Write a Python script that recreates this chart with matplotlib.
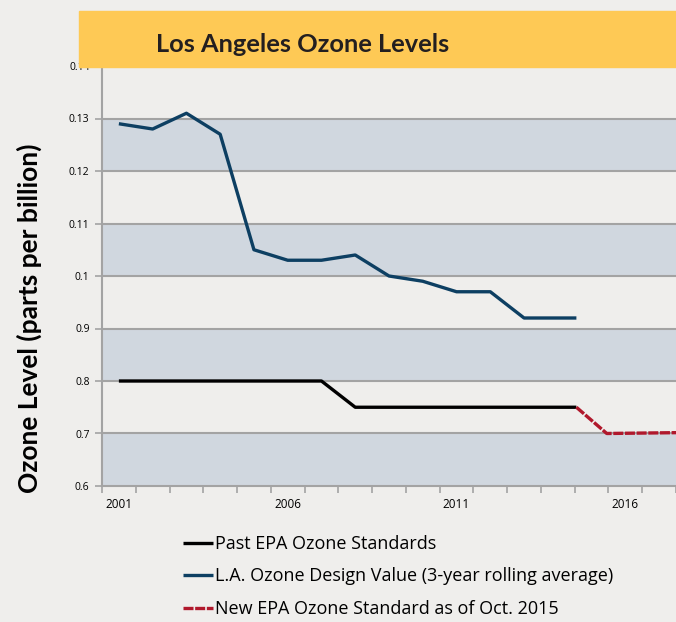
import numpy as np
import matplotlib.pyplot as plt
from matplotlib.patches import Rectangle

# data (ppm); y labels as printed on the original chart
la_years = [2001, 2002, 2003, 2004, 2005, 2006, 2007, 2008, 2009, 2010, 2011, 2012, 2013, 2014.55]
la_values = [0.129, 0.128, 0.131, 0.127, 0.105, 0.103, 0.103, 0.104, 0.100, 0.099, 0.097, 0.097, 0.092, 0.092]

past_years = [2001, 2002, 2003, 2004, 2005, 2006, 2007, 2008, 2009, 2010, 2011, 2012, 2013, 2014, 2014.55]
past_values = [0.08, 0.08, 0.08, 0.08, 0.08, 0.08, 0.08, 0.075, 0.075, 0.075, 0.075, 0.075, 0.075, 0.075, 0.075]

new_years = [2014.55, 2015.45, 2018]
new_values = [0.075, 0.070, 0.0702]

ytick_vals = [0.06, 0.07, 0.08, 0.09, 0.10, 0.11, 0.12, 0.13, 0.14]
ytick_labels = ['0.6', '0.7', '0.8', '0.9', '0.1', '0.11', '0.12', '0.13', '0.14']
xtick_years = [2001, 2006, 2011, 2016]

bg = '#efeeec'
band = '#d0d7df'
grid = '#a3a3a3'

fig = plt.figure(figsize=(6.76, 6.22), dpi=100, facecolor=bg)
ax = fig.add_axes([102 / 676, 1 - 486 / 622, 1 - 102 / 676, 420 / 622])
ax.set_facecolor('none')

for lo in [0.06, 0.08, 0.10, 0.12]:
    ax.axhspan(lo, lo + 0.01, color=band, zorder=0, lw=0)
for y in ytick_vals[1:]:
    ax.axhline(y, color=grid, lw=1.5, zorder=1)

ax.plot(past_years, past_values, color='black', lw=2.4, zorder=3, solid_capstyle='butt',
        label='Past EPA Ozone Standards')
ax.plot(la_years, la_values, color='#0d3f62', lw=2.4, zorder=3, solid_capstyle='butt',
        label='L.A. Ozone Design Value (3-year rolling average)')
ax.plot(new_years, new_values, color='#b0182c', lw=2.4, zorder=3, dashes=(3, 0.5),
        label='New EPA Ozone Standard as of Oct. 2015')

ax.set_xlim(2000.5, 2017.43)
ax.set_ylim(0.06, 0.14)
ax.set_yticks(ytick_vals)
ax.set_yticklabels(ytick_labels, fontsize=7.5, family='Open Sans')
ax.set_xticks(xtick_years)
ax.set_xticklabels([str(y) for y in xtick_years], fontsize=8.5, family='Open Sans')
ax.set_xticks(np.arange(2000.5, 2018, 1), minor=True)
ax.tick_params(axis='x', which='major', length=0, pad=9)
ax.tick_params(axis='x', which='minor', length=5, color=grid, width=1.2)
ax.tick_params(axis='y', length=5, color=grid, width=1.2, pad=4)

for s in ['top', 'right']:
    ax.spines[s].set_visible(False)
for s in ['left', 'bottom']:
    ax.spines[s].set_color(grid)
    ax.spines[s].set_linewidth(1.5)

# yellow title banner drawn over the top of the axes
fig.patches.append(Rectangle((79 / 676, 1 - 66.5 / 622), 1 - 79 / 676, 55.5 / 622,
                             transform=fig.transFigure, color='#fec955', zorder=5))
fig.text(0.4475, 1 - 52.5 / 622, 'Los Angeles Ozone Levels', ha='center', va='baseline',
         fontsize=18.3, fontweight='bold', family='Lato', color='#231f20', zorder=6)

fig.text(29 / 676, 1 - 318 / 622, 'Ozone Level (parts per billion)', rotation=90,
         ha='center', va='center', fontsize=19, fontweight='bold', family='Lato')

fig.legend(loc='upper left', bbox_to_anchor=(183 / 676, 1 - 535 / 622), frameon=False,
           prop={'family': 'Open Sans', 'size': 13}, handlelength=1.65, handletextpad=0.1,
           labelspacing=0.8, borderaxespad=0, borderpad=0)

fig.savefig('out.png', dpi=100, facecolor=bg)
